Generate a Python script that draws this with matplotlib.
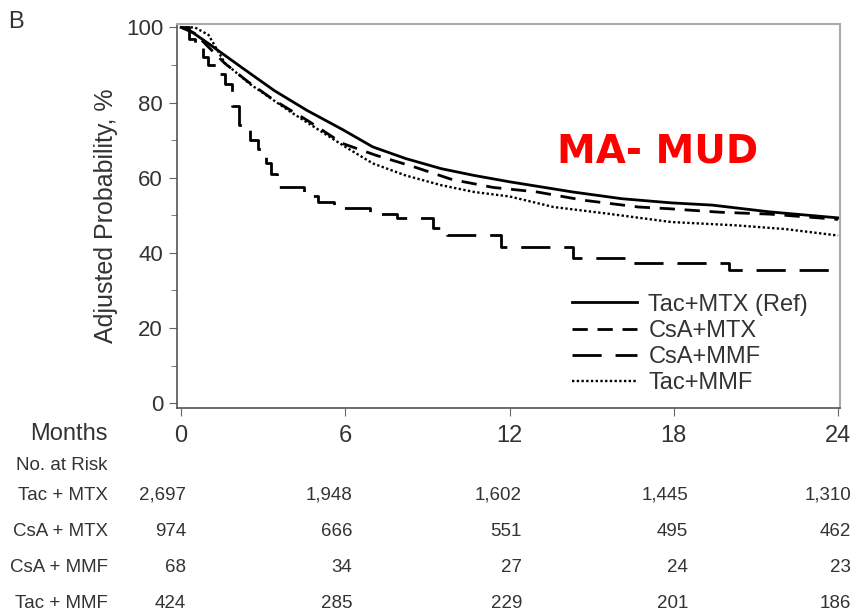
"""Adjusted probability curves by GVHD prophylaxis (MA-MUD), with numbers at risk."""

import matplotlib.pyplot as plt
from matplotlib.ticker import MultipleLocator

plt.rcParams['font.family'] = ['Liberation Sans', 'DejaVu Sans']

# Curve data (months, adjusted probability %)
tac_mtx_t = [0, 0.25, 1, 2.2, 3.4, 4.6, 5.9, 7.0, 8.2, 9.5, 10.7, 12.0,
             14.3, 16.1, 17.9, 19.4, 21.5, 24]
tac_mtx_p = [100, 99.5, 95.7, 89.4, 83.2, 77.9, 72.8, 68.2, 65.1, 62.4, 60.6,
             58.9, 56.2, 54.4, 53.3, 52.7, 50.9, 49.3]

csa_mtx_t = [0, 0.5, 1.6, 2.45, 3.4, 4.6, 5.9, 7.1, 8.5, 9.9, 11.4, 13.0,
             14.7, 16.7, 17.9, 19.7, 21.5, 24]
csa_mtx_p = [100, 98.4, 90.4, 85.5, 80.6, 75.3, 69.1, 66.0, 62.9, 59.5, 57.4,
             56.2, 54.0, 52.2, 51.7, 50.8, 50.3, 48.9]

csa_mmf_t = [0, 0.3, 0.5, 0.8, 1.0, 1.3, 1.6, 1.85, 2.1, 2.5, 2.8, 3.1, 3.3,
             3.5, 4.5, 5.0, 5.6, 6.9, 7.9, 9.2, 9.7, 11.7, 14.3, 16.5, 20.0, 24]
csa_mmf_p = [100, 97, 94.5, 92, 90, 87.5, 85, 79, 74, 70, 67.5, 64, 61, 57.5,
             55, 53.5, 52, 50.3, 49.2, 46.5, 44.7, 41.6, 38.5, 37.2, 35.4, 35.4]

tac_mmf_t = [0, 0.5, 1.0, 1.6, 2.5, 4.0, 6.0, 7.0, 8.2, 9.5, 10.7, 12.0,
             13.6, 15.5, 17.9, 20.3, 22.1, 24]
tac_mmf_p = [100, 100, 98, 90.5, 85, 77.5, 68.2, 63.8, 60.6, 58.0, 56.2, 55.0,
             52.2, 50.5, 48.2, 47.3, 46.3, 44.6]

month_ticks = [0, 6, 12, 18, 24]
risk_groups = ['Tac + MTX', 'CsA + MTX', 'CsA + MMF', 'Tac + MMF']
risk_counts = [
    ['2,697', '1,948', '1,602', '1,445', '1,310'],
    ['974', '666', '551', '495', '462'],
    ['68', '34', '27', '24', '23'],
    ['424', '285', '229', '201', '186'],
]

fig = plt.figure(figsize=(8.61, 6.14), dpi=100)
ax = fig.add_axes([177 / 861, 1 - 408 / 614, 663 / 861, 384 / 614])

ax.plot(tac_mtx_t, tac_mtx_p, color='black', lw=2.0, label='Tac+MTX (Ref)')
ax.plot(csa_mtx_t, csa_mtx_p, color='black', lw=2.0, dashes=(5.5, 3.5),
        label='CsA+MTX')
ax.plot(csa_mmf_t, csa_mmf_p, color='black', lw=2.0, dashes=(10.5, 5),
        drawstyle='steps-post', label='CsA+MMF')
ax.plot(tac_mmf_t, tac_mmf_p, color='black', lw=1.7, dashes=(1, 1),
        label='Tac+MMF')

ax.set_xlim(-0.15, 24.07)
ax.set_ylim(-1.3, 100.9)
ax.set_xticks(month_ticks)
ax.yaxis.set_major_locator(MultipleLocator(20))
ax.yaxis.set_minor_locator(MultipleLocator(10))
ax.tick_params(axis='both', which='both', direction='out', color='#666666')
ax.tick_params(axis='y', which='major', length=6, labelsize=16, pad=4,
               labelcolor='#333333')
ax.tick_params(axis='y', which='minor', length=4)
ax.tick_params(axis='x', which='major', length=6, labelsize=17, pad=6,
               labelcolor='#333333')
for side in ['left', 'bottom']:
    ax.spines[side].set_color('#555555')
    ax.spines[side].set_linewidth(1.2)
for side in ['top', 'right']:
    ax.spines[side].set_color('#aaaaaa')
    ax.spines[side].set_linewidth(1.5)

ax.set_ylabel('Adjusted Probability, %', fontsize=18, color='#333333',
              labelpad=6)

ax.legend(loc='lower right', bbox_to_anchor=(0.952, 0.037), frameon=False,
          fontsize=17, handlelength=2.75, handletextpad=0.5,
          labelspacing=0.17, borderpad=0, borderaxespad=0,
          labelcolor='#333333')

ax.text(0.7255, 0.667, 'MA- MUD', transform=ax.transAxes, color='#ff0000',
        fontsize=28, fontweight='bold', family='DejaVu Sans',
        ha='center', va='center')

# Panel letter and the numbers-at-risk table
fig.text(8 / 861, 1 - 22 / 614, 'B', fontsize=17, color='#333333',
         va='center', ha='left')
fig.text(108 / 861, 1 - 434 / 614, 'Months', fontsize=17, color='#333333',
         va='center', ha='right')
fig.text(108 / 861, 1 - 466 / 614, 'No. at Risk', fontsize=13.5,
         color='#333333', va='center', ha='right')

col_right = [186, 352, 522, 688, 851]
row_y = [495, 531, 567, 603]
for name, counts, y in zip(risk_groups, risk_counts, row_y):
    fig.text(108 / 861, 1 - y / 614, name, fontsize=13.5, color='#333333',
             va='center', ha='right')
    for xr, c in zip(col_right, counts):
        fig.text(xr / 861, 1 - y / 614, c, fontsize=13.5, color='#333333',
                 va='center', ha='right')

plt.savefig('out.png', dpi=100)
